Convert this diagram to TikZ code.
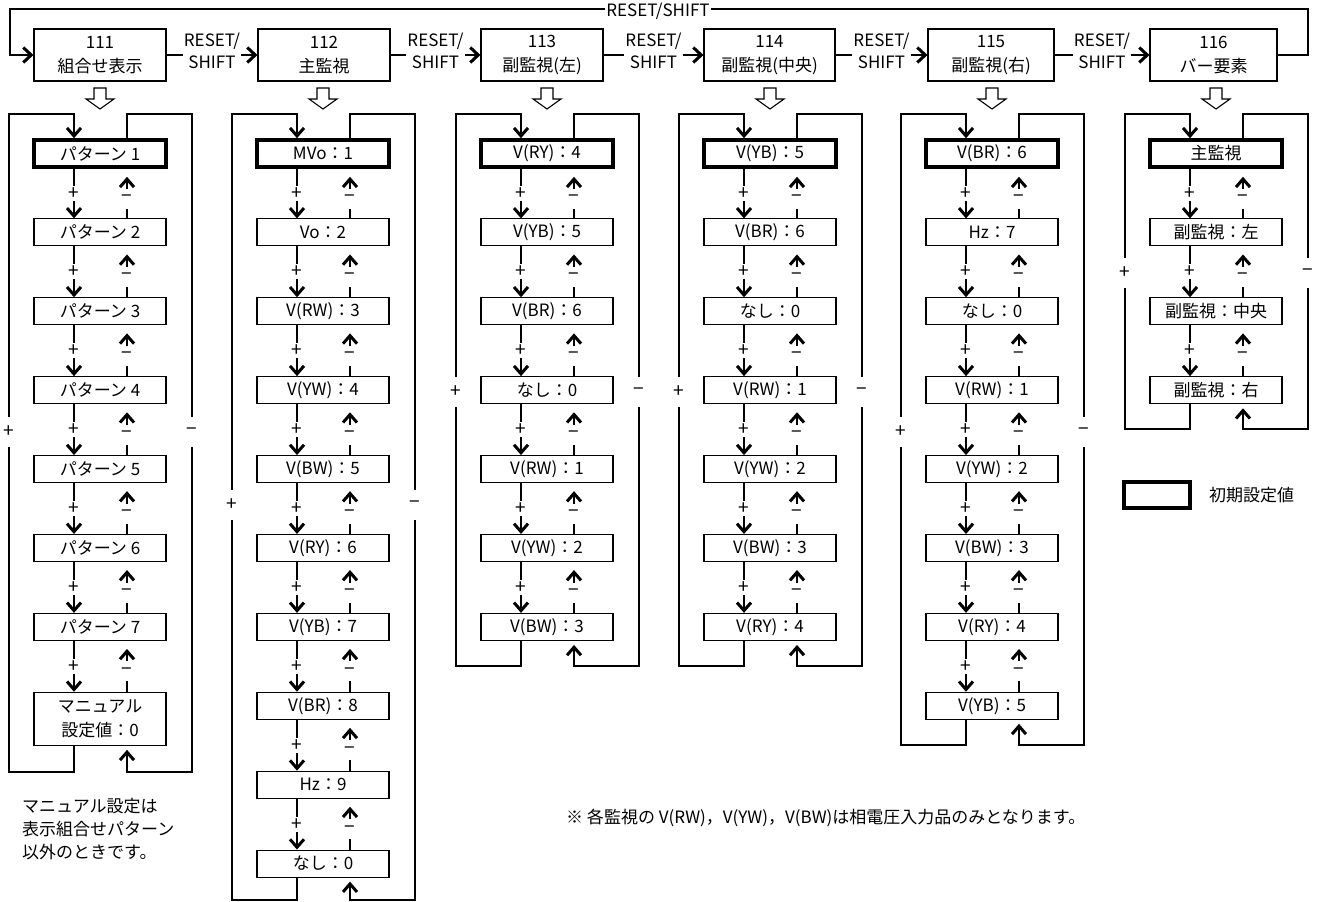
\documentclass[tikz,border=0pt]{standalone}
\usepackage{fontspec}
\setmainfont{Noto Sans CJK JP}
\usetikzlibrary{arrows.meta}
\tikzset{
  box/.style={draw, line width=1.1pt, minimum width=132pt, minimum height=27pt,
    inner sep=0pt, font=\fontsize{17}{24}\selectfont},
  initbox/.style={box, line width=3.6pt},
  topbox/.style={draw, line width=1.1pt, minimum height=52pt, inner sep=0pt,
    align=center, font=\fontsize{17}{24}\selectfont},
  conn/.style={line width=1.1pt},
  heavy/.style={line width=2.3pt},
  tipd/.style={-{Straight Barb[length=8pt,width=14pt,line width=3pt]}},
  tipr/.style={-{Straight Barb[length=8pt,width=15pt,line width=3pt]}},
  pmlabel/.style={fill=white, inner sep=0pt, minimum height=15pt, minimum width=12pt,
    font=\fontsize{19}{19}\selectfont},
  mlabel/.style={pmlabel, minimum height=20pt},
  pmouter/.style={pmlabel, minimum height=30pt},
  rlbl/.style={fill=white, inner sep=1pt, align=center, font=\fontsize{17}{22}\selectfont},
  hollow/.style={draw, line width=1.1pt, fill=white},
  txt/.style={inner sep=0pt, font=\fontsize{17}{23}\selectfont},
}
\newcommand\mkboxes[3]{%
  \foreach \t [count=\i] in {#3} {%
    \pgfmathsetmacro\yc{153.5+78.9*(\i-1)}%
    \ifnum\i=1
      \node[initbox] (c#1b\i) at (#2+66,\yc) {\t};
    \else
      \node[box] (c#1b\i) at (#2+66,\yc) {\t};
    \fi
  }%
}
\newcommand\colconn[5]{%
  \pgfmathsetmacro\xDX{#2+40}%
  \pgfmathsetmacro\xUX{#2+93}%
  \pgfmathsetmacro\xOL{#2-25}%
  \pgfmathsetmacro\xOR{#2+158}%
  \pgfmathtruncatemacro\nm{#3-1}%
  \coordinate (c#1dx) at (\xDX,0);
  \coordinate (c#1ux) at (\xUX,0);
  \coordinate (c#1lt) at (\xOL,114);
  \coordinate (c#1lb) at (\xOL,#5);
  \coordinate (c#1dt) at (\xDX,114);
  \coordinate (c#1db) at (\xDX,#5);
  \coordinate (c#1rt) at (\xOR,114);
  \coordinate (c#1rb) at (\xOR,#5);
  \coordinate (c#1ut) at (\xUX,114);
  \coordinate (c#1ub) at (\xUX,#5);
  \foreach \i in {1,...,\nm}{%
    \pgfmathtruncatemacro\j{\i+1}%
    \draw[conn,tipd] (c#1b\i.south -| c#1dx) -- (c#1b\j.north -| c#1dx) node[pmlabel,pos=0.5]{+};
    \draw[conn,tipd,shorten >=8pt] (c#1b\j.north -| c#1ux) -- (c#1b\i.south -| c#1ux) node[mlabel,pos=0.4]{−};
  }%
  \draw[conn] (c#1b#3.south -| c#1dx) -- (c#1db) -- (c#1lb) -- (c#1lt);
  \draw[heavy,tipd,line cap=rect] (c#1lt) -- (c#1dt) -- (c#1b1.north -| c#1dx);
  \node[pmouter] (c#1plus) at (\xOL,#4) {+};
  \draw[conn] (c#1b1.north -| c#1ux) -- (c#1ut) -- (c#1rt) -- (c#1rb);
  \draw[heavy,tipd,shorten >=4pt,line cap=rect] (c#1rb) -- (c#1ub) -- (c#1b#3.south -| c#1ux);
  \node[pmouter] (c#1minus) at (\xOR,#4) {−};
}
\newcommand\hollowarrow[1]{%
  \draw[hollow] (#1-6,88) -- (#1+6,88) -- (#1+6,99) -- (#1+14,99) -- (#1,109)
    -- (#1-14,99) -- (#1-6,99) -- cycle;
}
\begin{document}
\begin{tikzpicture}[x=1pt,y=-1pt]
\useasboundingbox (0,0) rectangle (1325,902);

% top row
\node[topbox, minimum width=132pt] (t111) at (100,55) {111\\組合せ表示};
\node[topbox, minimum width=132pt] (t112) at (324,55) {112\\主監視};
\node[topbox, minimum width=122pt] (t113) at (542,55) {113\\副監視(左)};
\node[topbox, minimum width=131pt] (t114) at (769.5,55) {114\\副監視(中央)};
\node[topbox, minimum width=126pt] (t115) at (991,55) {115\\副監視(右)};
\node[topbox, minimum width=127pt] (t116) at (1213.5,55) {116\\バー要素};

\foreach \a/\b in {t111/t112,t112/t113,t113/t114,t114/t115,t115/t116}{
  \draw[conn,tipr] (\a.east) -- (\b.west) node[rlbl,midway,yshift=4.5pt] {RESET/\\SHIFT};
}
\coordinate (loopR) at (1308,55);
\coordinate (loopRT) at (1308,9);
\coordinate (loopLT) at (10,9);
\coordinate (loopL) at (10,55);
\draw[conn] (t116.east) -- (loopR) -- (loopRT) -- (loopLT) -- (loopL);
\draw[heavy,tipr,line cap=rect] (loopL) -- (t111.west);
\node[rlbl] (rsall) at (658,11) {RESET/SHIFT};

\hollowarrow{100}
\hollowarrow{323}
\hollowarrow{547}
\hollowarrow{770}
\hollowarrow{992}
\hollowarrow{1216}

% column 111
\mkboxes{1}{34}{パターン 1,パターン 2,パターン 3,パターン 4,パターン 5,パターン 6,パターン 7}
\node[box, minimum height=53pt, align=center] (c1b8) at (100,718.8) {マニュアル\\設定値：0};
\colconn{1}{34}{8}{432}{772}

% column 112
\mkboxes{2}{257}{MVo：1,Vo：2,V(RW)：3,V(YW)：4,V(BW)：5,V(RY)：6,V(YB)：7,V(BR)：8,Hz：9,なし：0}
\colconn{2}{257}{10}{505}{900}

% column 113
\mkboxes{3}{481}{V(RY)：4,V(YB)：5,V(BR)：6,なし：0,V(RW)：1,V(YW)：2,V(BW)：3}
\colconn{3}{481}{7}{392}{666}

% column 114
\mkboxes{4}{704}{V(YB)：5,V(BR)：6,なし：0,V(RW)：1,V(YW)：2,V(BW)：3,V(RY)：4}
\colconn{4}{704}{7}{392}{666}

% column 115
\mkboxes{5}{926}{V(BR)：6,Hz：7,なし：0,V(RW)：1,V(YW)：2,V(BW)：3,V(RY)：4,V(YB)：5}
\colconn{5}{926}{8}{432}{745}

% column 116
\mkboxes{6}{1150}{主監視,副監視：左,副監視：中央,副監視：右}
\colconn{6}{1150}{4}{273}{429}

% legend
\node[draw, line width=3.6pt, minimum width=66pt, minimum height=26pt, inner sep=0pt] (legbox) at (1157,495) {};
\node[txt, anchor=west] (legtxt) at (1209,495) {初期設定値};

% notes
\node[txt, anchor=north west, align=left] (note1) at (22,798) {マニュアル設定は\\表示組合せパターン\\以外のときです。};
\node[txt, anchor=west] (note2) at (566,818) {※ 各監視の V(RW)，V(YW)，V(BW)は相電圧入力品のみとなります。};
\end{tikzpicture}
\end{document}
